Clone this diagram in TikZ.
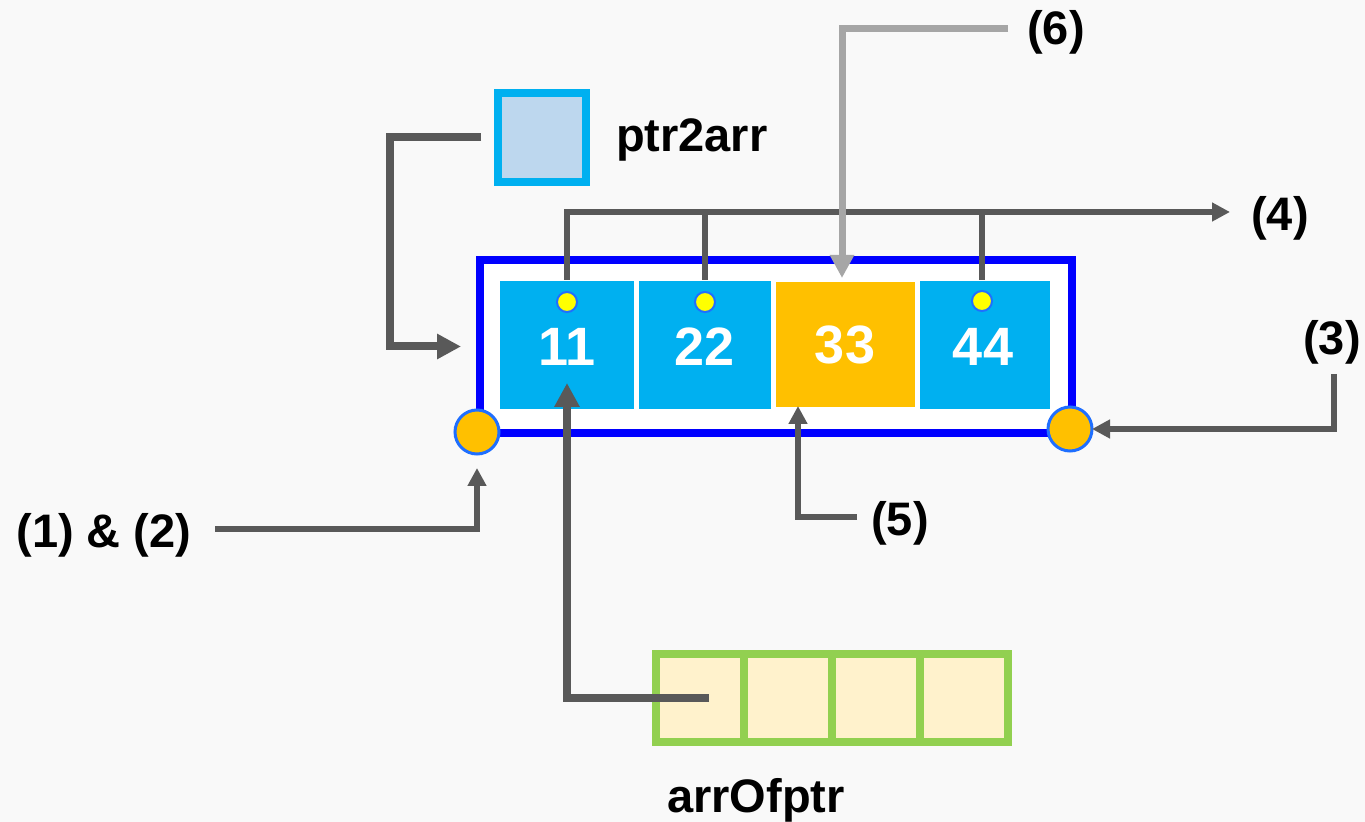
\documentclass[tikz,border=0pt]{standalone}
\usepackage{fontspec}
\setmainfont{Liberation Sans}
\usetikzlibrary{arrows.meta}

\definecolor{bg}{HTML}{F9F9F9}
\definecolor{ptrfill}{HTML}{BDD7EE}
\definecolor{ptredge}{HTML}{00B0F0}
\definecolor{frameblue}{HTML}{0000FF}
\definecolor{cellblue}{HTML}{00B0F0}
\definecolor{cellorange}{HTML}{FFC000}
\definecolor{dotyellow}{HTML}{FFFF00}
\definecolor{dotedge}{HTML}{1F6FFF}
\definecolor{arrgray}{HTML}{595959}
\definecolor{lightarr}{HTML}{A6A6A6}
\definecolor{boxgreen}{HTML}{92D050}
\definecolor{cream}{HTML}{FFF2CC}

\tikzset{
  every node/.style={inner sep=0pt, outer sep=0pt},
  lbl/.style={font=\fontsize{23.5}{27}\selectfont\bfseries, text=black},
  cellbox/.style={draw=white, line width=1pt, minimum height=65pt},
  num/.style={font=\fontsize{27}{30}\selectfont\bfseries, text=white},
  dotn/.style={circle, fill=dotyellow, draw=dotedge, line width=1pt, minimum size=10pt},
  ring/.style={circle, fill=cellorange, draw=dotedge, line width=1.5pt, minimum size=22pt},
  bigarrow/.style={draw=arrgray, line width=4pt, -{Triangle[length=12pt,width=12pt]}},
  midarrow/.style={draw=arrgray, line width=2.8pt, -{Triangle[length=9pt,width=9pt]}},
  plainline/.style={draw=arrgray, line width=2.8pt},
  greyarrow/.style={draw=lightarr, line width=3.5pt, -{Triangle[length=11.5pt,width=11.5pt]}},
  slot/.style={draw=boxgreen, fill=cream, line width=4pt, minimum width=44pt, minimum height=44pt}
}

\begin{document}
\begin{tikzpicture}[x=0.5pt, y=-0.5pt]
  % canvas
  \fill[bg] (0,0) rectangle (1365,822);
  \useasboundingbox (0,0) rectangle (1365,822);

  % pointer to the array
  \node[draw=ptredge, fill=ptrfill, line width=4pt, minimum width=44pt, minimum height=44.5pt] (ptr) at (542,137.5) {};
  \node[lbl, anchor=west] (ptrlbl) at (616,140) {ptr2arr};

  % the array with its frame
  \node[draw=frameblue, fill=white, line width=4pt, minimum width=296pt, minimum height=86.5pt] (frame) at (776,346.5) {};
  \node[cellbox, fill=cellblue, minimum width=68pt] (c1) at (567,345) {};
  \node[cellbox, fill=cellblue, minimum width=67pt] (c2) at (705,345) {};
  \node[cellbox, fill=cellorange, minimum width=70.5pt, minimum height=63.5pt] (c3) at (845.5,344.5) {};
  \node[cellbox, fill=cellblue, minimum width=66pt] (c4) at (985,345) {};
  \node[num] (n1) at (567,347) {11};
  \node[num] (n2) at (705,347) {22};
  \node[num] (n3) at (845,345) {33};
  \node[num] (n4) at (983,347) {44};
  \node[dotn] (d1) at (567,302) {};
  \node[dotn] (d2) at (705,302) {};
  \node[dotn] (d4) at (982,301) {};

  % begin / end markers
  \node[ring] (cL) at (477,432) {};
  \node[ring] (cR) at (1070,429) {};

  % array of pointers
  \node[slot] (a1) at (700,698) {};
  \node[slot] (a2) at (788,698) {};
  \node[slot] (a3) at (876,698) {};
  \node[slot] (a4) at (964,698) {};
  \node[lbl] (arrlbl) at (756,800) {arrOfptr};

  % labels
  \node[lbl] (l12) at (104,535) {(1) \& (2)};
  \node[lbl] (l3) at (1332,342) {(3)};
  \node[lbl] (l4) at (1280,218) {(4)};
  \node[lbl] (l5) at (900,523) {(5)};
  \node[lbl] (l6) at (1056,32) {(6)};

  % free ends of the connectors next to the labels
  \coordinate (s12) at (215,529);
  \coordinate (s3) at (1334,374);
  \coordinate (t4) at (1230,212);
  \coordinate (s5) at (857,517);
  \coordinate (s6) at (1008,29);

  % connectors
  \draw[bigarrow, shorten <=8.5pt, shorten >=9.5pt] (ptr.west) -- ++(-108,0) |- (frame.west);
  \draw[bigarrow, shorten >=19pt] ([xshift=4.5pt]a1.center) -| (c1.center);
  \draw[midarrow] (c1.north) |- (t4);
  \draw[plainline] (c2.north) -- (c2.north |- t4);
  \draw[plainline] (c4.north -| d4) -- (d4 |- t4);
  \draw[greyarrow, shorten >=1.5pt] (s6) -| ([xshift=-1.75pt]c3.north);
  \draw[midarrow] (s3) |- (cR.east) ;
  \draw[midarrow, shorten >=7pt] (s12) -| (cL.south);
  \draw[midarrow, shorten >=-1pt] (s5) -| ([xshift=11.5pt]c3.south west);
\end{tikzpicture}
\end{document}
